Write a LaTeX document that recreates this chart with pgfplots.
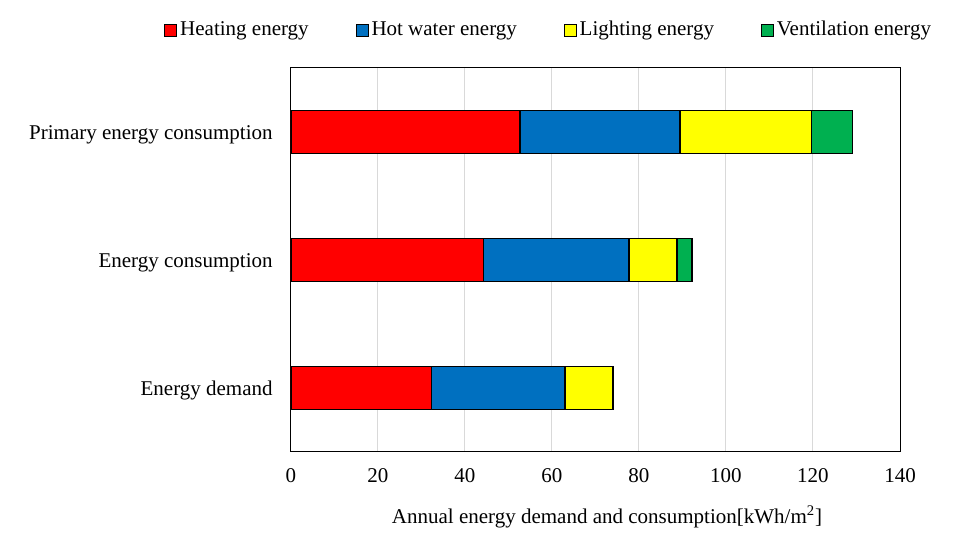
\documentclass[border=0pt]{standalone}
\usepackage{fontspec}
\setmainfont{Liberation Serif}
\usepackage{pgfplots}
\pgfplotsset{compat=1.18}
\definecolor{cRed}{HTML}{FF0000}
\definecolor{cBlue}{HTML}{0070C0}
\definecolor{cYellow}{HTML}{FFFF00}
\definecolor{cGreen}{HTML}{00B050}
\begin{document}
\fontsize{10.5}{12.6}\selectfont
\begin{tikzpicture}
\path[use as bounding box] (-145.5pt,-44pt) rectangle (336.5pt,226pt);
\begin{axis}[
  at={(0,0)}, anchor=south west,
  scale only axis, width=304.5pt, height=192pt,
  xbar stacked, bar width=21.5pt,
  xmin=0, xmax=140, ymin=-0.5, ymax=2.5,
  xtick={0,20,...,140},
  ytick={0,1,2},
  yticklabels={Energy demand,Energy consumption,Primary energy consumption},
  /pgf/number format/assume math mode=true,
  xmajorgrids, grid style={draw=black!15, line width=0.5pt},
  major tick length=0pt,
  axis line style={line width=0.5pt},
  xticklabel style={yshift=-4.5pt},
  yticklabel style={xshift=-5.5pt, yshift=-1.3pt},
  xlabel={Annual energy demand and consumption[kWh/m\textsuperscript{2}]},
  xlabel style={at={(rel axis cs:0.519,0)}, anchor=center, yshift=-32.5pt},
  legend style={at={(0.424,1.099)}, anchor=center, draw=none, fill=none,
    legend columns=4,
    /tikz/every even column/.append style={column sep=22pt},
    nodes={inner sep=1.5pt}},
  legend image code/.code={\draw[#1,draw=black,line width=0.4pt] (0pt,-3pt) rectangle (6pt,3pt);},
  every axis plot/.append style={draw=black, line width=0.7pt},
]
\addplot[fill=cRed] coordinates {(32.3,0) (44.3,1) (52.6,2)};
\addplot[fill=cBlue] coordinates {(30.7,0) (33.4,1) (36.8,2)};
\addplot[fill=cYellow] coordinates {(11.0,0) (11.0,1) (30.2,2)};
\addplot[fill=cGreen] coordinates {(0,0) (3.5,1) (9.5,2)};
\legend{Heating energy,Hot water energy,Lighting energy,Ventilation energy}
\end{axis}
\end{tikzpicture}
\end{document}
